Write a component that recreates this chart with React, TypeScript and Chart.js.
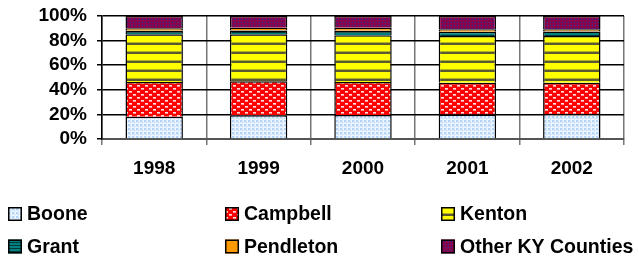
import React, { useEffect, useRef } from "react";
import { Chart, registerables } from "chart.js";

Chart.register(...registerables);

const categories = ["1998", "1999", "2000", "2001", "2002"];
const seriesNames = ["Boone", "Campbell", "Kenton", "Grant", "Pendleton", "Other KY Counties"];
const boone = [18.1, 19.3, 19.5, 20.0, 20.3];
const campbell = [28.2, 27.6, 26.8, 25.8, 25.5];
const kenton = [38.8, 38.2, 38.0, 37.9, 37.9];
const grant = [3.0, 3.2, 3.7, 3.5, 3.6];
const pendleton = [1.9, 2.2, 2.4, 2.0, 1.9];
const other = [10.0, 9.5, 9.6, 10.8, 10.8];
const yTicks = [0, 20, 40, 60, 80, 100];

function makePattern(w: number, h: number, draw: (c: CanvasRenderingContext2D) => void): CanvasPattern {
  const cv = document.createElement("canvas");
  cv.width = w;
  cv.height = h;
  const c = cv.getContext("2d")!;
  draw(c);
  return c.createPattern(cv, "repeat")!;
}

function buildPatterns() {
  const booneP = makePattern(4, 4, (c) => {
    c.fillStyle = "#f4f9ff";
    c.fillRect(0, 0, 4, 4);
    c.fillStyle = "#b4d4fa";
    c.fillRect(0, 0, 2, 2);
    c.fillStyle = "#d6e8fd";
    c.fillRect(2, 0, 1, 4);
    c.fillRect(0, 2, 4, 1);
  });
  const campbellP = makePattern(8, 6, (c) => {
    c.fillStyle = "#ff0000";
    c.fillRect(0, 0, 8, 6);
    c.fillStyle = "#ffe0e0";
    c.fillRect(1, 1, 3, 1);
    c.fillRect(5, 4, 3, 1);
    c.fillStyle = "#ff9090";
    c.fillRect(1, 2, 3, 1);
    c.fillRect(5, 5, 3, 1);
  });
  const kentonP = makePattern(4, 9, (c) => {
    c.fillStyle = "#ffff00";
    c.fillRect(0, 0, 4, 9);
    c.fillStyle = "#5a5a30";
    c.fillRect(0, 7, 4, 2);
    c.fillStyle = "#b0b020";
    c.fillRect(0, 6, 4, 1);
  });
  const grantP = makePattern(4, 3, (c) => {
    c.fillStyle = "#008080";
    c.fillRect(0, 0, 4, 3);
    c.fillStyle = "#003838";
    c.fillRect(0, 2, 4, 1);
  });
  const pendP = "#ff9900";
  const otherP = makePattern(3, 3, (c) => {
    c.fillStyle = "#8c0048";
    c.fillRect(0, 0, 3, 3);
    c.fillStyle = "#3c2c8c";
    c.fillRect(1, 1, 1, 1);
    c.fillStyle = "#6a1468";
    c.fillRect(0, 1, 1, 1);
    c.fillRect(1, 0, 1, 1);
  });
  return [booneP, campbellP, kentonP, grantP, pendP, otherP];
}

const legendPlugin = {
  id: "gridLegend",
  afterDraw(chart: any) {
    const ctx = chart.ctx as CanvasRenderingContext2D;
    const colsX = [8, 225, 441];
    const rowsY = [214, 246.5];
    ctx.save();
    chart.data.datasets.forEach((ds: any, i: number) => {
      const x = colsX[i % 3];
      const y = rowsY[Math.floor(i / 3)];
      ctx.fillStyle = ds.backgroundColor;
      ctx.fillRect(x, y - 7, 14, 14);
      ctx.strokeStyle = "#000";
      ctx.lineWidth = 1.5;
      ctx.strokeRect(x + 0.75, y - 6.25, 12.5, 12.5);
      ctx.fillStyle = "#000";
      ctx.font = "bold 19.5px 'Liberation Sans', Arial, sans-serif";
      ctx.textBaseline = "middle";
      ctx.textAlign = "left";
      ctx.fillText(ds.label, x + 19, y + 1);
    });
    ctx.restore();
  },
};

export default function App() {
  const ref = useRef<HTMLCanvasElement>(null);
  useEffect(() => {
    document.body.style.margin = "0";
    const pats = buildPatterns();
    const values = [boone, campbell, kenton, grant, pendleton, other];
    const chart = new Chart(ref.current!, {
      type: "bar",
      data: {
        labels: categories,
        datasets: seriesNames.map((n, i) => ({
          label: n,
          data: values[i],
          backgroundColor: pats[i] as any,
          borderColor: "#000",
          borderWidth: 1.5,
          barPercentage: 0.55,
          categoryPercentage: 1,
        })),
      },
      options: {
        responsive: false,
        animation: false,
        events: [],
        layout: { padding: { left: 0, right: 15, top: 16, bottom: 81 } },
        plugins: { legend: { display: false }, tooltip: { enabled: false } },
        scales: {
          x: {
            stacked: true,
            grid: { color: "#777", lineWidth: 1.5, tickLength: 6, offset: true },
            border: { color: "#555", width: 2 },
            ticks: { color: "#000", padding: 12, font: { family: "'Liberation Sans', Arial, sans-serif", weight: "bold", size: 19 } },
            afterFit: (s: any) => { s.height = 40; s.paddingLeft = 0; s.paddingRight = 0; },
          },
          y: {
            stacked: true,
            min: 0,
            max: 100,
            afterBuildTicks: (s: any) => { s.ticks = yTicks.map((v) => ({ value: v })); },
            grid: { color: "#000", lineWidth: 1.5, tickLength: 5 },
            border: { color: "#000", width: 1.5 },
            ticks: {
              color: "#000",
              padding: 10,
              autoSkip: false,
              callback: (v: any) => v + "%",
              font: { family: "'Liberation Sans', Arial, sans-serif", weight: "bold", size: 19 },
            },
            afterFit: (s: any) => { s.width = 102; s.paddingTop = 0; s.paddingBottom = 0; },
          },
        },
      },
      plugins: [legendPlugin],
    });
    return () => chart.destroy();
  }, []);
  return (
    <div style={{ position: "fixed", left: 0, top: 0, width: 639, height: 260, background: "#fff" }}>
      <canvas ref={ref} width={639} height={260} />
    </div>
  );
}
